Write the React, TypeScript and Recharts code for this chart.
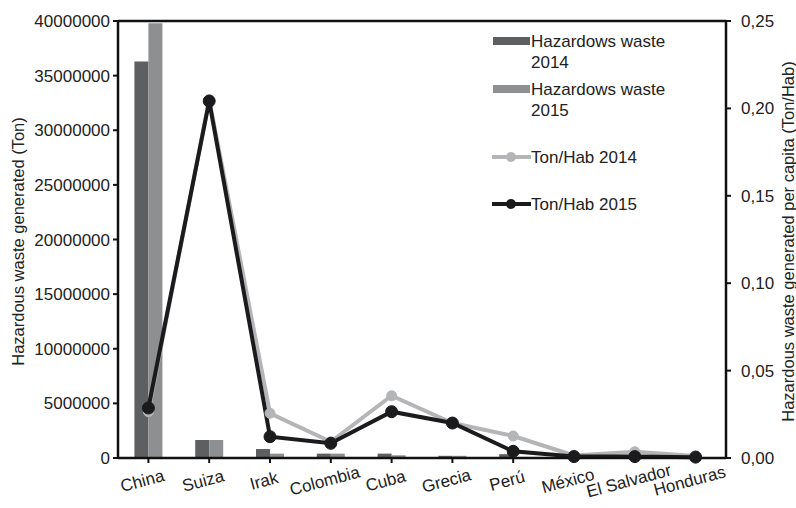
import React from "react";
import {
  ComposedChart,
  Bar,
  Line,
  XAxis,
  YAxis,
  ReferenceLine,
} from "recharts";

const countries = [
  "China",
  "Suiza",
  "Irak",
  "Colombia",
  "Cuba",
  "Grecia",
  "Perú",
  "México",
  "El Salvador",
  "Honduras",
];
const waste2014 = [36300000, 1650000, 820000, 400000, 400000, 200000, 350000, 50000, 40000, 30000];
const waste2015 = [39800000, 1650000, 400000, 400000, 250000, 200000, 100000, 40000, 30000, 20000];
const perCapita2014 = [0.0265, 0.205, 0.0256, 0.0093, 0.0356, 0.02, 0.0126, 0.0015, 0.0036, 0.0012];
const perCapita2015 = [0.0286, 0.2042, 0.0122, 0.0084, 0.0265, 0.02, 0.0038, 0.0008, 0.0008, 0.0005];

const leftTicks = [0, 5000000, 10000000, 15000000, 20000000, 25000000, 30000000, 35000000, 40000000];
const rightTicks = [0, 0.05, 0.1, 0.15, 0.2, 0.25];

const data = countries.map((country, i) => ({
  country,
  w2014: waste2014[i],
  w2015: waste2015[i],
  p2014: perCapita2014[i],
  p2015: perCapita2015[i],
}));

const FONT = "'Liberation Sans', Arial, sans-serif";
const DARK_BAR = "#5e5f61";
const LIGHT_BAR = "#8d8f91";
const GRAY_LINE = "#b3b5b7";
const BLACK_LINE = "#1b1b1d";

const CountryTick = (props: any) => {
  const { x, y, payload } = props;
  return (
    <text
      x={x - 6}
      y={y + 16}
      textAnchor="middle"
      fontSize={17}
      fontFamily={FONT}
      fill="#222"
      transform={`rotate(-15, ${x - 6}, ${y + 16})`}
      dominantBaseline="central"
    >
      {payload.value}
    </text>
  );
};

const SideLabel = ({ viewBox, text, dx }: any) => {
  const cx = viewBox.x + dx;
  const cy = viewBox.y + viewBox.height / 2 + 2;
  return (
    <text
      x={cx}
      y={cy}
      textAnchor="middle"
      dominantBaseline="central"
      fontSize={16.5}
      fontFamily={FONT}
      fill="#222"
      transform={`rotate(-90, ${cx}, ${cy})`}
    >
      {text}
    </text>
  );
};

const legendItems = [
  { kind: "bar", color: DARK_BAR, lines: ["Hazardows waste", "2014"] },
  { kind: "bar", color: LIGHT_BAR, lines: ["Hazardows waste", "2015"] },
  { kind: "line", color: GRAY_LINE, lines: ["Ton/Hab 2014"] },
  { kind: "line", color: BLACK_LINE, lines: ["Ton/Hab 2015"] },
];
const legendTops = [31, 79, 147, 194];

const ChartLegend = () => (
  <div style={{ position: "absolute", left: 492, top: 0, fontFamily: FONT, fontSize: 17, color: "#222" }}>
    {legendItems.map((item, i) => (
      <div key={i} style={{ position: "absolute", top: legendTops[i], left: 0, display: "flex", width: 200 }}>
        <svg width={39} height={20} style={{ flex: "none" }}>
          {item.kind === "bar" ? (
            <rect x={1} y={6} width={37} height={8} fill={item.color} />
          ) : (
            <g>
              <line x1={0} y1={10} x2={39} y2={10} stroke={item.color} strokeWidth={4} />
              <circle cx={19} cy={10} r={5} fill={item.color} />
            </g>
          )}
        </svg>
        <div style={{ lineHeight: "21px" }}>
          {item.lines.map((l, j) => (
            <div key={j}>{l}</div>
          ))}
        </div>
      </div>
    ))}
  </div>
);

export default function App() {
  return (
    <div style={{ position: "relative", width: 796, height: 508, background: "#fff" }}>
      <style>{`body{margin:0}`}</style>
      <ComposedChart
        width={796}
        height={508}
        data={data}
        margin={{ top: 21, right: 0, bottom: 0, left: 0 }}
        barGap={0}
        barCategoryGap="27%"
      >
        <XAxis
          dataKey="country"
          height={50}
          interval={0}
          tick={<CountryTick />}
          tickLine={{ stroke: "#111", strokeWidth: 2 }}
          axisLine={{ stroke: "#111", strokeWidth: 2.5 }}
          tickSize={5}
        />
        <YAxis
          yAxisId="left"
          orientation="left"
          width={118}
          domain={[0, 40000000]}
          ticks={leftTicks}
          interval={0}
          tickFormatter={(v: number) => String(v)}
          tick={{ fontSize: 17, fontFamily: FONT, fill: "#222" }}
          tickLine={{ stroke: "#111", strokeWidth: 2 }}
          axisLine={{ stroke: "#111", strokeWidth: 2.5 }}
          tickSize={5}
          tickMargin={3}
          label={{ content: (p: any) => <SideLabel {...p} text="Hazardous waste generated  (Ton)" dx={18} /> }}
        />
        <YAxis
          yAxisId="right"
          orientation="right"
          width={70}
          domain={[0, 0.25]}
          ticks={rightTicks}
          interval={0}
          tickFormatter={(v: number) => v.toFixed(2).replace(".", ",")}
          tick={{ fontSize: 17, fontFamily: FONT, fill: "#222" }}
          tickLine={{ stroke: "#111", strokeWidth: 2 }}
          axisLine={{ stroke: "#111", strokeWidth: 2.5 }}
          tickSize={5}
          tickMargin={10}
          label={{
            content: (p: any) => (
              <SideLabel {...p} text="Hazardous waste generated per capita (Ton/Hab)" dx={62} />
            ),
          }}
        />
        <ReferenceLine yAxisId="left" y={40000000} stroke="#111" strokeWidth={2.5} ifOverflow="extendDomain" />
        <Bar yAxisId="left" dataKey="w2014" fill={DARK_BAR} isAnimationActive={false} />
        <Bar yAxisId="left" dataKey="w2015" fill={LIGHT_BAR} isAnimationActive={false} />
        <Line
          yAxisId="right"
          type="linear"
          dataKey="p2014"
          stroke={GRAY_LINE}
          strokeWidth={4}
          dot={{ r: 5, fill: GRAY_LINE, stroke: GRAY_LINE, strokeWidth: 1 }}
          isAnimationActive={false}
        />
        <Line
          yAxisId="right"
          type="linear"
          dataKey="p2015"
          stroke={BLACK_LINE}
          strokeWidth={4}
          dot={{ r: 6, fill: BLACK_LINE, stroke: BLACK_LINE, strokeWidth: 1 }}
          isAnimationActive={false}
        />
      </ComposedChart>
      <ChartLegend />
    </div>
  );
}
